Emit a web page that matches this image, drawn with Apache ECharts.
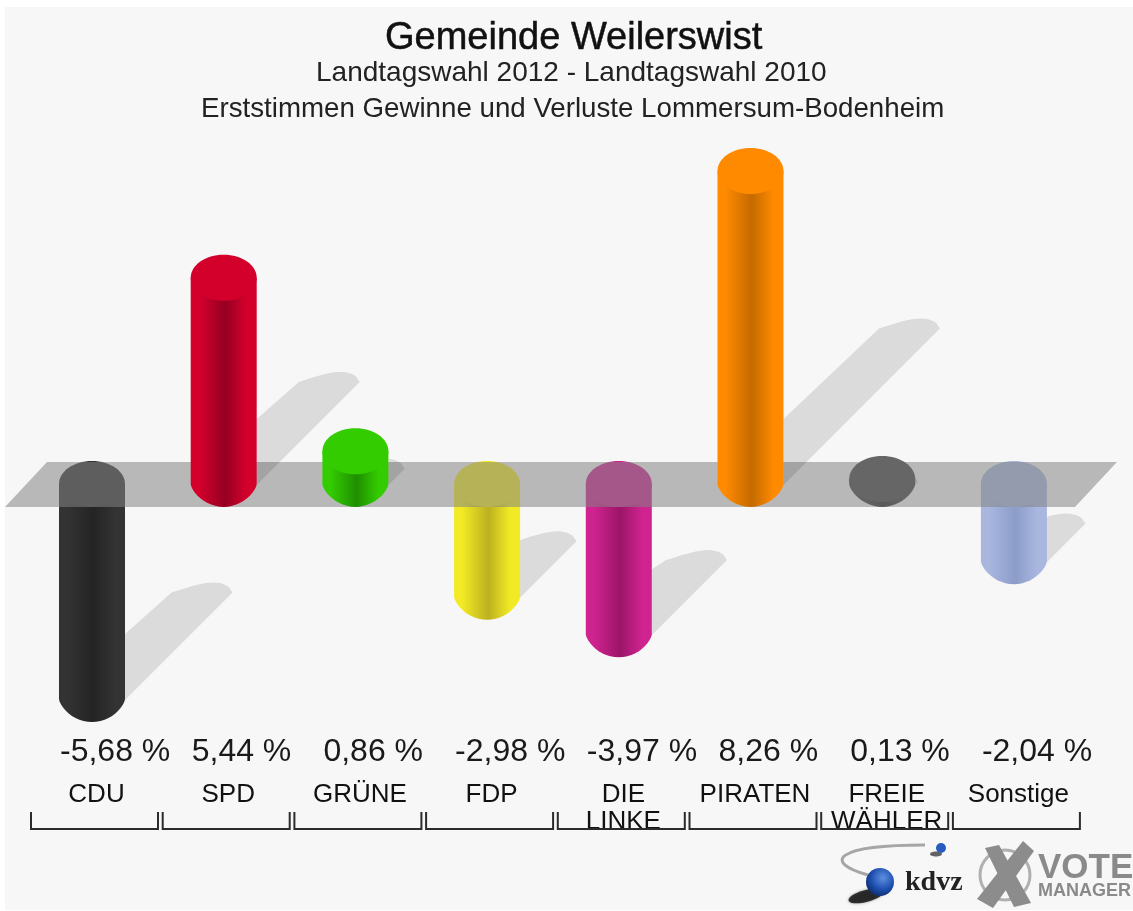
<!DOCTYPE html>
<html>
<head>
<meta charset="utf-8">
<style>
    html, body { margin: 0; padding: 0; background: #fff; }
    #chart { width: 1133px; height: 911px; }
</style>
<script src="https://cdn.jsdelivr.net/npm/echarts@6/dist/echarts.min.js"></script>
</head>
<body>
<div id="chart"></div>
<script>
    // data
    var categories = ['CDU', 'SPD', 'GRÜNE', 'FDP', 'DIE\nLINKE', 'PIRATEN', 'FREIE\nWÄHLER', 'Sonstige'];
    var values = [-5.68, 5.44, 0.86, -2.98, -3.97, 8.26, 0.13, -2.04];
    var valueLabels = ['-5,68 %', '5,44 %', '0,86 %', '-2,98 %', '-3,97 %', '8,26 %', '0,13 %', '-2,04 %'];

    // edge colour / centre colour of each cylinder
    var edgeColors = ['#333333', '#d4002c', '#33cc00', '#f2ea24', '#cf2390', '#ff8a00', '#666666', '#a9b7df'];
    var midColors = ['#242424', '#960022', '#1f8f00', '#bdb120', '#9c1568', '#c46a00', '#5a5a5a', '#8c9cc9'];

    var BAR_W = 66, RY = 23, FONT = '"Liberation Sans", Arial, sans-serif';

    function indexed(test) {
        var out = [];
        values.forEach(function (v, i) { if (test(v)) out.push([i, v]); });
        return out;
    }

    // lower half of the cylinder end, a little pointier than an ellipse
    function bottomCap(cx, cy) {
        var pts = [];
        for (var k = 0; k <= 24; k++) {
            var a = Math.PI * k / 24;
            pts.push([
                cx + Math.cos(a) * BAR_W / 2,
                cy + Math.pow(Math.sin(a), 1.35) * RY
            ]);
        }
        return pts;
    }

    function barGradient(i) {
        return new echarts.graphic.LinearGradient(0, 0, 1, 0, [
            { offset: 0, color: edgeColors[i] },
            { offset: 0.12, color: edgeColors[i] },
            { offset: 0.52, color: midColors[i] },
            { offset: 0.85, color: edgeColors[i] },
            { offset: 1, color: edgeColors[i] }
        ]);
    }

    function renderBar(params, api) {
        var i = api.value(0), v = api.value(1);
        var p0 = api.coord([i, 0]), p1 = api.coord([i, v]);
        var x = p0[0];
        var topY = Math.min(p0[1], p1[1]), bottomY = Math.max(p0[1], p1[1]);
        var pts = bottomCap(x, bottomY).concat([[x - BAR_W / 2, topY], [x + BAR_W / 2, topY]]);
        return {
            type: 'group',
            children: [
                { type: 'polygon', shape: { points: pts }, style: { fill: barGradient(i) } },
                { type: 'ellipse', shape: { cx: x, cy: topY, rx: BAR_W / 2, ry: RY }, style: { fill: edgeColors[i] } }
            ]
        };
    }

    function renderBand(params, api) {
        var y = api.coord([0, 0])[1];
        return {
            type: 'polygon',
            shape: { points: [[5, y + RY], [47, y - RY + 1], [1117, y - RY + 1], [1075, y + RY]] },
            style: { fill: 'rgba(131,131,131,0.54)' }
        };
    }

    function renderShadow(params, api) {
        var i = api.value(0), v = api.value(1);
        var p0 = api.coord([i, 0]), p1 = api.coord([i, v]);
        var by = Math.max(p0[1], p1[1]);
        var len = Math.abs(p1[1] - p0[1]) / 2;
        var edge = p0[0] + BAR_W / 2;
        var tipX = edge + len, tipY = by + 1 - len;
        var pts = [[edge, by + 1], [tipX, tipY]];
        // rounded end of the shadow
        for (var k = 1; k <= 16; k++) {
            var t = k / 16;
            pts.push([
                Math.max(edge, tipX - 61 * t),
                tipY - 10 * Math.sin(Math.PI * Math.pow(t, 0.6))
            ]);
        }
        pts.push([edge, Math.max(by - 65, tipY)]);
        return { type: 'polygon', shape: { points: pts }, style: { fill: 'rgba(0,0,0,0.11)' } };
    }

    function renderLabels(params, api) {
        var i = api.value(0);
        var x = api.coord([i, 0])[0];
        return {
            type: 'group',
            children: [
                {
                    type: 'polyline',
                    shape: { points: [[x - 61, 812], [x - 61, 829], [x + 66, 829], [x + 66, 812]] },
                    style: { stroke: '#2b2b2b', lineWidth: 2, fill: null }
                },
                {
                    type: 'text',
                    style: {
                        x: x - 32, y: 752, text: valueLabels[i], fill: '#1a1a1a',
                        font: '32px ' + FONT, textAlign: 'left', textVerticalAlign: 'middle'
                    }
                }
            ]
        };
    }

    var chart = echarts.init(document.getElementById('chart'), null, { renderer: 'canvas' });
    chart.setOption({
        backgroundColor: '#f7f7f7',
        animation: false,
        title: [
            { text: 'Gemeinde Weilerswist', left: 385, top: 20, padding: 0, textStyle: { fontFamily: FONT, fontSize: 38, fontWeight: 'normal', color: '#111', textBorderColor: '#111', textBorderWidth: 0.5 } },
            { text: 'Landtagswahl 2012 - Landtagswahl 2010', left: 316, top: 59, padding: 0, textStyle: { fontFamily: FONT, fontSize: 28, fontWeight: 'normal', color: '#222' } },
            { text: 'Erststimmen Gewinne und Verluste Lommersum-Bodenheim', left: 201, top: 95, padding: 0, textStyle: { fontFamily: FONT, fontSize: 27.7, fontWeight: 'normal', color: '#222' } }
        ],
        grid: { left: 26.15, width: 1053.6, top: 143, height: 568.2, containLabel: false },
        xAxis: {
            type: 'category',
            data: categories,
            axisLine: { show: false },
            axisTick: { show: false },
            offset: 62,
            axisLabel: {
                interval: 0, margin: 8, fontFamily: FONT, fontSize: 26, lineHeight: 27,
                color: '#111', padding: [0, 0, 0, 9], verticalAlign: 'top'
            }
        },
        yAxis: { type: 'value', min: -6, max: 9, show: false },
        series: [
            { name: 'negative', type: 'custom', z: 1, clip: false, data: indexed(function (v) { return v < 0; }), encode: { x: 0, y: 1 }, renderItem: renderBar },
            { name: 'band', type: 'custom', z: 2, clip: false, data: [[0, 0]], encode: { x: 0, y: 1 }, renderItem: renderBand },
            { name: 'shadow', type: 'custom', z: 3, clip: false, data: indexed(function () { return true; }), encode: { x: 0, y: 1 }, renderItem: renderShadow },
            { name: 'positive', type: 'custom', z: 4, clip: false, data: indexed(function (v) { return v >= 0; }), encode: { x: 0, y: 1 }, renderItem: renderBar },
            { name: 'labels', type: 'custom', z: 5, clip: false, data: indexed(function () { return true; }), encode: { x: 0, y: 1 }, renderItem: renderLabels }
        ],
        graphic: [
            // white frame of the original image
            { type: 'rect', z: 10, shape: { x: 0, y: 0, width: 5, height: 911 }, style: { fill: '#fff' } },
            { type: 'rect', z: 10, shape: { x: 0, y: 0, width: 1133, height: 7 }, style: { fill: '#fff' } },
            { type: 'rect', z: 10, shape: { x: 0, y: 910, width: 1133, height: 1 }, style: { fill: '#fff' } },
            // kdvz logo
            { type: 'bezierCurve', z: 10, shape: { x1: 868, y1: 875, cpx1: 822, cpy1: 862, cpx2: 835, cpy2: 845, x2: 925, y2: 845 }, style: { stroke: '#a6a6a6', lineWidth: 3, fill: null } },
            { type: 'ellipse', z: 10, rotation: 0.25, originX: 866, originY: 896, shape: { cx: 866, cy: 896, rx: 18, ry: 6 }, style: { fill: 'rgba(0,0,0,0.75)', shadowBlur: 3, shadowColor: 'rgba(0,0,0,0.5)' } },
            { type: 'circle', z: 10, shape: { cx: 880, cy: 882, r: 14 }, style: { fill: new echarts.graphic.RadialGradient(0.6, 0.35, 0.7, [{ offset: 0, color: '#5f8fe0' }, { offset: 0.6, color: '#1d4fb0' }, { offset: 1, color: '#0d2a66' }]) } },
            { type: 'ellipse', z: 10, shape: { cx: 936, cy: 854, rx: 6, ry: 2.5 }, style: { fill: 'rgba(0,0,0,0.6)' } },
            { type: 'circle', z: 10, shape: { cx: 941, cy: 848, r: 5 }, style: { fill: '#2a5cc0' } },
            { type: 'text', z: 10, style: { x: 905, y: 883, text: 'kdvz', fill: '#222', font: 'bold 28px "Liberation Serif", serif', textVerticalAlign: 'middle' } },
            // vote manager logo
            { type: 'circle', z: 10, shape: { cx: 1005, cy: 875, r: 25 }, style: { fill: null, stroke: '#b0b0b0', lineWidth: 3 } },
            { type: 'polygon', z: 10, shape: { points: [[985, 848], [999, 845], [1031, 903], [1014, 907]] }, style: { fill: '#8c8c8c' } },
            { type: 'polygon', z: 10, shape: { points: [[1023, 841], [1034, 851], [993, 908], [977, 899]] }, style: { fill: '#8c8c8c' } },
            { type: 'text', z: 10, style: { x: 1038, y: 868, text: 'VOTE', fill: '#8a8a8a', font: 'bold 35px ' + FONT, textVerticalAlign: 'middle' } },
            { type: 'text', z: 10, style: { x: 1038, y: 891, text: 'MANAGER', fill: '#8a8a8a', font: 'bold 18px ' + FONT, textVerticalAlign: 'middle' } }
        ]
    });
</script>
</body>
</html>
